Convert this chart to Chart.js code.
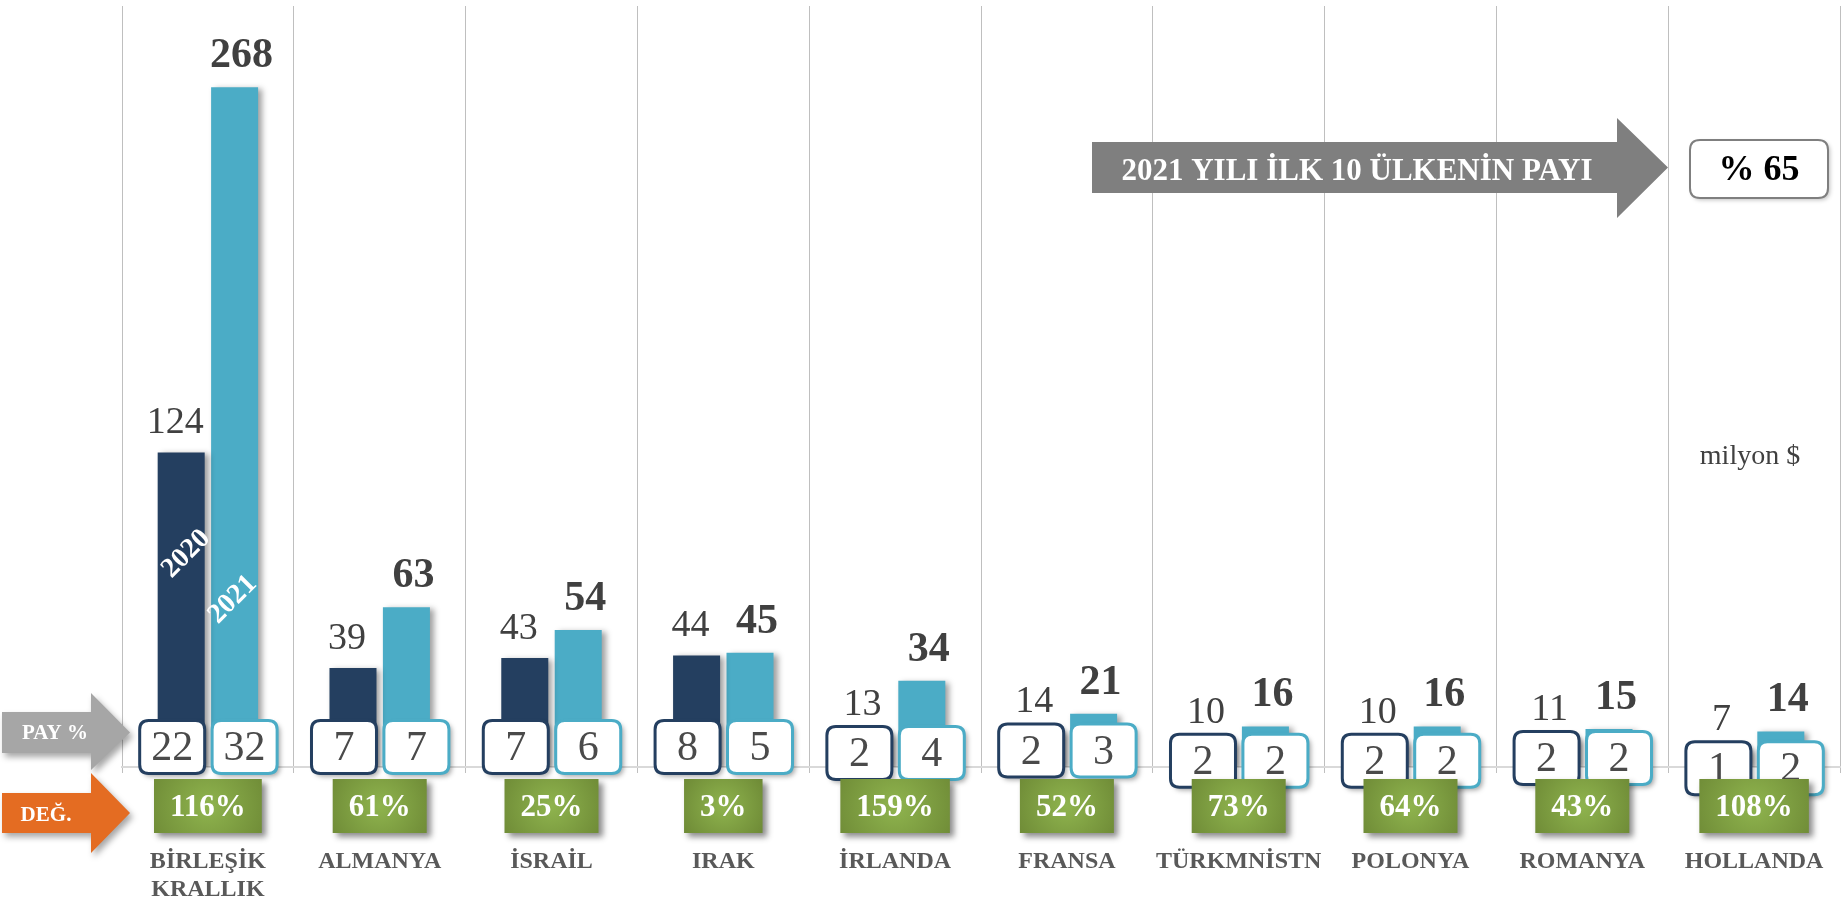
<!DOCTYPE html>
<html>
<head>
<meta charset="utf-8">
<script src="https://cdn.jsdelivr.net/npm/chart.js@4.4.0/dist/chart.umd.min.js"></script>
<style>
    html, body { margin: 0; padding: 0; background: #fff; overflow: hidden; }
    #kutu { width: 1845px; height: 908px; position: relative; }
</style>
</head>
<body>
<div id="kutu"><canvas id="ihracatChart"></canvas></div>
<script>
// veriler (milyon $)
const yillar = ['2020', '2021'];
const ulkeler = [['BİRLEŞİK', 'KRALLIK'], ['ALMANYA'], ['İSRAİL'], ['IRAK'], ['İRLANDA'],
    ['FRANSA'], ['TÜRKMNİSTN'], ['POLONYA'], ['ROMANYA'], ['HOLLANDA']];
const ihracat2020 = [124, 39, 43, 44, 13, 14, 10, 10, 11, 7];
const ihracat2021 = [268, 63, 54, 45, 34, 21, 16, 16, 15, 14];
const pay2020 = [22, 7, 7, 8, 2, 2, 2, 2, 2, 1];
const pay2021 = [32, 7, 6, 5, 4, 3, 2, 2, 2, 2];
const degisim = [116, 61, 25, 3, 159, 52, 73, 64, 43, 108];
const ilk10Payi = 65;
const yMax = 300;

const RENK_2020 = '#243F60';
const RENK_2021 = '#4BACC6';
const YAZI = '"Liberation Serif", "Times New Roman", serif';

function kutuYolu(ctx, x, y, w, h, r) {
    ctx.beginPath();
    ctx.moveTo(x + r, y);
    ctx.lineTo(x + w - r, y);
    ctx.quadraticCurveTo(x + w, y, x + w, y + r);
    ctx.lineTo(x + w, y + h - r);
    ctx.quadraticCurveTo(x + w, y + h, x + w - r, y + h);
    ctx.lineTo(x + r, y + h);
    ctx.quadraticCurveTo(x, y + h, x, y + h - r);
    ctx.lineTo(x, y + r);
    ctx.quadraticCurveTo(x, y, x + r, y);
    ctx.closePath();
}

function okYolu(ctx, x0, govdeUst, govdeAlt, basX, basUst, basAlt, ucX) {
    const orta = (govdeUst + govdeAlt) / 2;
    ctx.beginPath();
    ctx.moveTo(x0, govdeUst);
    ctx.lineTo(basX, govdeUst);
    ctx.lineTo(basX, basUst);
    ctx.lineTo(ucX, orta);
    ctx.lineTo(basX, basAlt);
    ctx.lineTo(basX, govdeAlt);
    ctx.lineTo(x0, govdeAlt);
    ctx.closePath();
}

function golge(ctx, renk, blur, dx, dy) {
    ctx.shadowColor = renk;
    ctx.shadowBlur = blur;
    ctx.shadowOffsetX = dx;
    ctx.shadowOffsetY = dy;
}

const cizimler = {
    id: 'cizimler',
    beforeDatasetsDraw(chart) {
        chart.ctx.save();
        golge(chart.ctx, 'rgba(0,0,0,0.38)', 6, 4, 2);
    },
    afterDatasetsDraw(chart) {
        const ctx = chart.ctx;
        ctx.restore();
        const xs = chart.scales.x, ys = chart.scales.y;
        const taban = ys.getPixelForValue(0);
        const b0 = chart.getDatasetMeta(0).data;
        const b1 = chart.getDatasetMeta(1).data;

        // bar üstü değerler
        ctx.save();
        ctx.textAlign = 'center';
        ctx.textBaseline = 'alphabetic';
        ctx.fillStyle = '#404040';
        b0.forEach((bar, i) => {
            ctx.font = '38px ' + YAZI;
            ctx.fillText(String(ihracat2020[i]), bar.x - 6, bar.y - 19);
        });
        b1.forEach((bar, i) => {
            ctx.font = 'bold 42px ' + YAZI;
            ctx.fillText(String(ihracat2021[i]), bar.x + 7, bar.y - 20);
        });
        ctx.restore();

        // yıl yazıları (ilk barların içinde)
        [[b0[0].x + 5, 84, yillar[0]], [b1[0].x - 2, 66, yillar[1]]].forEach(([px, v, t]) => {
            ctx.save();
            ctx.font = 'bold 28px ' + YAZI;
            ctx.fillStyle = '#ffffff';
            ctx.textAlign = 'center';
            ctx.textBaseline = 'middle';
            ctx.translate(px, ys.getPixelForValue(v));
            ctx.rotate(-Math.PI / 4);
            ctx.fillText(t, 0, 0);
            ctx.restore();
        });

        // PAY % kutuları
        const kw = 65, kh = 53;
        for (let i = 0; i < ulkeler.length; i++) {
            const cy = Math.max(taban - 20, ys.getPixelForValue(ihracat2020[i]) + 19);
            const kutular = [
                [b0[i].x - 9, RENK_2020, pay2020[i]],
                [b1[i].x + 10, RENK_2021, pay2021[i]]
            ];
            kutular.forEach(([cx, renk, deger]) => {
                ctx.save();
                golge(ctx, 'rgba(0,0,0,0.35)', 5, 3, 3);
                kutuYolu(ctx, cx - kw / 2, cy - kh / 2, kw, kh, 9);
                ctx.fillStyle = '#ffffff';
                ctx.fill();
                ctx.restore();
                ctx.save();
                kutuYolu(ctx, cx - kw / 2, cy - kh / 2, kw, kh, 9);
                ctx.lineWidth = 3;
                ctx.strokeStyle = renk;
                ctx.stroke();
                ctx.font = '42px ' + YAZI;
                ctx.fillStyle = '#4A4A4A';
                ctx.textAlign = 'center';
                ctx.textBaseline = 'middle';
                ctx.fillText(String(deger), cx, cy + 2);
                ctx.restore();
            });
        }

        // DEĞ. kutuları
        for (let i = 0; i < ulkeler.length; i++) {
            const cx = xs.getPixelForValue(i);
            const metin = degisim[i] + '%';
            ctx.save();
            ctx.font = 'bold 31px ' + YAZI;
            const w = ctx.measureText(metin).width + 32;
            const h = 54, ust = taban + 12;
            const g = ctx.createRadialGradient(cx, ust + h / 2, 0, cx, ust + h / 2, w * 0.6);
            g.addColorStop(0, '#8FB44E');
            g.addColorStop(1, '#6E8A36');
            golge(ctx, 'rgba(0,0,0,0.45)', 6, 4, 4);
            ctx.fillStyle = g;
            ctx.fillRect(cx - w / 2, ust, w, h);
            golge(ctx, 'transparent', 0, 0, 0);
            ctx.fillStyle = '#ffffff';
            ctx.textAlign = 'center';
            ctx.textBaseline = 'middle';
            ctx.fillText(metin, cx, ust + h / 2 + 2);
            ctx.restore();
        }

        // ülke adları
        ctx.save();
        ctx.font = 'bold 24px ' + YAZI;
        ctx.fillStyle = '#595959';
        ctx.textAlign = 'center';
        ctx.textBaseline = 'middle';
        ulkeler.forEach((satirlar, i) => {
            const cx = xs.getPixelForValue(i);
            satirlar.forEach((s, k) => ctx.fillText(s, cx, taban + 95 + k * 28));
        });
        ctx.restore();

        // soldaki oklar
        ctx.save();
        golge(ctx, 'rgba(0,0,0,0.35)', 6, 3, 4);
        ctx.fillStyle = '#A6A6A6';
        okYolu(ctx, 2, taban - 55, taban - 14, 91, taban - 74, taban + 3, 130);
        ctx.fill();
        ctx.fillStyle = '#E46C22';
        okYolu(ctx, 2, taban + 26, taban + 66, 91, taban + 6, taban + 86, 130);
        ctx.fill();
        ctx.restore();
        ctx.save();
        ctx.font = 'bold 21px ' + YAZI;
        ctx.fillStyle = '#ffffff';
        ctx.textAlign = 'center';
        ctx.textBaseline = 'middle';
        ctx.fillText('PAY %', 55, taban - 33);
        ctx.fillText('DEĞ.', 46, taban + 49);
        ctx.restore();

        // sağ üst: ilk 10 ülkenin payı
        ctx.save();
        ctx.fillStyle = '#7F7F7F';
        okYolu(ctx, 1092, 142, 193, 1617, 118, 218, 1668);
        ctx.fill();
        ctx.font = 'bold 31px ' + YAZI;
        ctx.fillStyle = '#ffffff';
        ctx.textAlign = 'center';
        ctx.textBaseline = 'middle';
        const baslik = '2021 YILI İLK 10 ÜLKENİN PAYI';
        const bw = ctx.measureText(baslik).width;
        ctx.translate(1357, 172);
        if (bw > 492) ctx.scale(492 / bw, 1);
        ctx.fillText(baslik, 0, 0);
        ctx.restore();

        ctx.save();
        golge(ctx, 'rgba(0,0,0,0.25)', 4, 2, 2);
        kutuYolu(ctx, 1690, 140, 138, 58, 10);
        ctx.fillStyle = '#ffffff';
        ctx.fill();
        golge(ctx, 'transparent', 0, 0, 0);
        ctx.lineWidth = 2;
        ctx.strokeStyle = '#7F7F7F';
        ctx.stroke();
        ctx.font = 'bold 36px ' + YAZI;
        ctx.fillStyle = '#000000';
        ctx.textAlign = 'center';
        ctx.textBaseline = 'middle';
        ctx.fillText('% ' + ilk10Payi, 1759, 171);
        ctx.restore();

        // birim
        ctx.save();
        ctx.font = '28px ' + YAZI;
        ctx.fillStyle = '#404040';
        ctx.textAlign = 'center';
        ctx.textBaseline = 'middle';
        ctx.fillText('milyon $', 1750, 457);
        ctx.restore();
    }
};

const ctx = document.getElementById('ihracatChart').getContext('2d');
const ihracatChart = new Chart(ctx, {
    type: 'bar',
    data: {
        labels: ulkeler.map(u => u.join(' ')),
        datasets: [{
            label: yillar[0],
            data: ihracat2020,
            backgroundColor: RENK_2020,
            borderWidth: 0,
            barPercentage: 0.88,
            categoryPercentage: 0.622
        }, {
            label: yillar[1],
            data: ihracat2021,
            backgroundColor: RENK_2021,
            borderWidth: 0,
            barPercentage: 0.88,
            categoryPercentage: 0.622
        }]
    },
    options: {
        responsive: true,
        maintainAspectRatio: false,
        devicePixelRatio: 1,
        animation: false,
        layout: {
            padding: { left: 122, right: 5, top: 6, bottom: 135 }
        },
        plugins: {
            legend: { display: false },
            tooltip: { enabled: false }
        },
        scales: {
            x: {
                offset: true,
                grid: {
                    offset: true,
                    color: '#BFBFBF',
                    lineWidth: 1,
                    drawTicks: true,
                    tickLength: 6
                },
                border: { display: true, color: '#D9D9D9', width: 2 },
                ticks: { display: false }
            },
            y: {
                display: false,
                min: 0,
                max: yMax
            }
        }
    },
    plugins: [cizimler]
});
</script>
</body>
</html>
